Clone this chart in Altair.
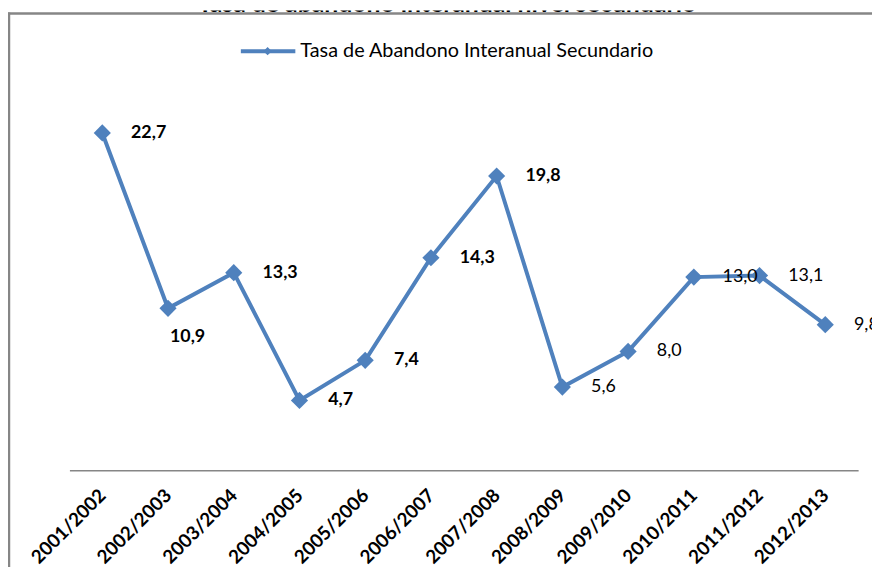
import altair as alt
import pandas as pd

years = ["2001/2002", "2002/2003", "2003/2004", "2004/2005", "2005/2006", "2006/2007",
         "2007/2008", "2008/2009", "2009/2010", "2010/2011", "2011/2012", "2012/2013"]
rates = [22.7, 10.9, 13.3, 4.7, 7.4, 14.3, 19.8, 5.6, 8.0, 13.0, 13.1, 9.8]
labels = [f"{v:.1f}".replace(".", ",") for v in rates]

title_text = "Tasa de abandono interanual nivel secundario"
legend_text = "Tasa de Abandono Interanual Secundario"

df = pd.DataFrame({"year": years, "rate": rates, "label": labels, "idx": list(range(len(years)))})

BLUE = "#4F81BD"
GRAY = "#868686"
FONT = "Lato"

x_enc = alt.X("year:N", sort=years, scale=alt.Scale(type="point", padding=0.5),
              axis=alt.Axis(title=None, labelAngle=-45, labelAlign="right", labelBaseline="middle",
                            labelPadding=22, ticks=False, domainColor=GRAY, domainWidth=1.5,
                            labelFont=FONT, labelFontSize=19, labelFontWeight="bold",
                            labelColor="black", grid=False, labelOverlap=False))
y_enc = alt.Y("rate:Q", scale=alt.Scale(domain=[0, 464 / 15], nice=False, zero=True), axis=None)

base = alt.Chart(df).encode(x=x_enc, y=y_enc)

line = base.mark_line(color=BLUE, strokeWidth=4)
pts = base.mark_point(shape="diamond", filled=True, color=BLUE, size=300, opacity=1)

lbl_bold = base.transform_filter("datum.idx < 7 && datum.idx != 1").mark_text(
    align="left", baseline="middle", dx=29, font=FONT, fontSize=18, fontWeight="bold", color="black"
).encode(text="label:N")
lbl_special = base.transform_filter("datum.idx == 1").mark_text(
    align="left", baseline="middle", dx=2, dy=29, font=FONT, fontSize=18, fontWeight="bold", color="black"
).encode(text="label:N")
lbl_reg = base.transform_filter("datum.idx >= 7").mark_text(
    align="left", baseline="middle", dx=29, font=FONT, fontSize=18, color="black"
).encode(text="label:N")

one = pd.DataFrame({"a": [0]})
border_top = alt.Chart(one).mark_rule(color=GRAY, strokeWidth=2.5).encode(
    x=alt.value(-62), x2=alt.value(812), y=alt.value(3))
border_left = alt.Chart(one).mark_rule(color=GRAY, strokeWidth=2.5).encode(
    x=alt.value(-61), y=alt.value(2), y2=alt.value(600))

title = alt.Chart(one).mark_text(text=title_text, font=FONT, fontSize=25, fontWeight="bold",
                                 color="black", align="center", baseline="alphabetic", clip=True).encode(
    x=alt.value(381), y=alt.value(1))

leg_line = alt.Chart(one).mark_rule(color=BLUE, strokeWidth=4).encode(
    x=alt.value(173), x2=alt.value(228), y=alt.value(41))
leg_pt = alt.Chart(one).mark_point(shape="diamond", filled=True, color=BLUE, size=70, opacity=1).encode(
    x=alt.value(200), y=alt.value(41))
leg_txt = alt.Chart(one).mark_text(text=legend_text, font=FONT, fontSize=20, color="black",
                                   align="left", baseline="middle").encode(
    x=alt.value(233), y=alt.value(41))

chart = alt.layer(
    border_top, border_left, title, leg_line, leg_pt, leg_txt,
    line, pts, lbl_bold, lbl_special, lbl_reg
).properties(
    width=796, height=464,
    autosize=alt.AutoSizeParams(type="none"),
    padding={"left": 62, "top": 0, "right": 14, "bottom": 95},
    background="white",
).configure_view(strokeWidth=0)

chart.save("out.html", embed_options={"renderer": "svg", "actions": False})
